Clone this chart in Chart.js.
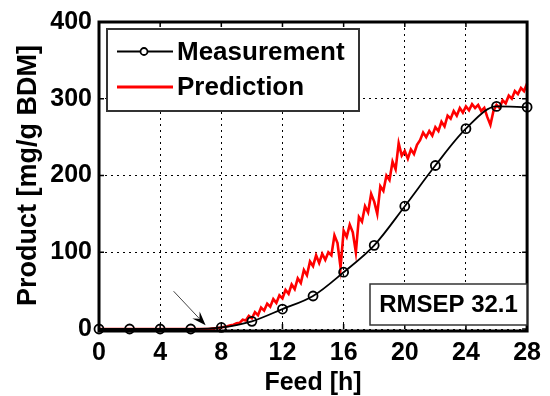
<!DOCTYPE html>
<html>
<head>
<meta charset="utf-8">
<script src="https://cdn.jsdelivr.net/npm/chart.js@4.4.0/dist/chart.umd.min.js"></script>
<style>
html,body{margin:0;padding:0;background:#fff;}
#wrap{width:550px;height:396px;position:relative;}
</style>
</head>
<body>
<div id="wrap"><canvas id="c" width="550" height="396"></canvas></div>
<script>
// ---- data ----
const measHours = [0, 2, 4, 6, 8, 10, 12, 14, 16, 18, 20, 22, 24, 26, 28];
const measValues = [0, 0, 0, 0, 2, 10, 26, 43, 74, 109, 160, 213, 261, 290, 289];

const predHours = [0, 7.0, 7.2, 7.4, 7.6, 7.8, 8.0, 8.2, 8.4, 8.6, 8.8, 9.0, 9.2, 9.4, 9.6, 9.8,
  10.0, 10.2, 10.4, 10.6, 10.8, 11.0, 11.2, 11.4, 11.6, 11.8, 12.0, 12.2, 12.4, 12.6, 12.8,
  13.0, 13.2, 13.4, 13.6, 13.8, 14.0, 14.2, 14.4, 14.6, 14.8, 15.0, 15.2, 15.4, 15.6, 15.8,
  16.0, 16.2, 16.4, 16.6, 16.8, 17.0, 17.2, 17.4, 17.6, 17.8, 18.0, 18.2, 18.4, 18.6, 18.8,
  19.0, 19.2, 19.4, 19.6, 19.8, 20.0, 20.2, 20.4, 20.6, 20.8, 21.0, 21.2, 21.4, 21.6, 21.8,
  22.0, 22.2, 22.4, 22.6, 22.8, 23.0, 23.2, 23.4, 23.6, 23.8, 24.0, 24.2, 24.4, 24.6, 24.8,
  25.0, 25.2, 25.4, 25.6, 25.8, 26.0, 26.2, 26.4, 26.6, 26.8, 27.0, 27.2, 27.4, 27.6, 27.8, 28.0];
const predValues = [0, 0, 0, 0.5, 1, 1.5, 2, 3, 3.5, 5, 5.5, 7.5, 8, 12, 11, 17,
  14, 22, 18, 28, 24, 33, 29, 39, 34, 44, 40, 51, 46, 58, 52,
  66, 60, 77, 70, 88, 82, 96, 86, 98, 90, 100, 96, 122, 112, 80,
  128, 120, 136, 126, 100, 146, 140, 160, 152, 176, 166, 150, 186, 180, 200,
  194, 218, 208, 242, 226, 232, 222, 234, 228, 240, 246, 256, 250, 258, 252,
  263, 258, 270, 264, 278, 274, 284, 278, 288, 282, 290, 285, 293, 288, 292,
  284, 288, 276, 266, 284, 292, 288, 298, 294, 304, 300, 310, 306, 314, 310, 320];

const xTicks = [0, 4, 8, 12, 16, 20, 24, 28];
const yTicks = [0, 100, 200, 300, 400];
const seriesLabels = ['Measurement', 'Prediction'];
const xTitle = 'Feed [h]';
const yTitle = 'Product [mg/g BDM]';
const rmsepText = 'RMSEP 32.1';
const arrowTarget = [7.3, 1]; // hours, value the arrow points to

const FONT = '"Liberation Sans", Arial, sans-serif';

const overlay = {
  id: 'overlay',
  afterDraw(chart) {
    const ctx = chart.ctx;
    const a = chart.chartArea;
    const xs = chart.scales.x, ys = chart.scales.y;
    ctx.save();
    // inward ticks
    ctx.strokeStyle = '#000';
    ctx.lineWidth = 1.5;
    ctx.beginPath();
    xTicks.forEach(t => {
      const px = xs.getPixelForValue(t);
      ctx.moveTo(px, a.top); ctx.lineTo(px, a.top + 5);
      ctx.moveTo(px, a.bottom); ctx.lineTo(px, a.bottom - 5);
    });
    yTicks.forEach(t => {
      const py = ys.getPixelForValue(t);
      ctx.moveTo(a.right, py); ctx.lineTo(a.right - 5, py);
      ctx.moveTo(a.left, py); ctx.lineTo(a.left + 5, py);
    });
    ctx.stroke();
    // frame (bottom edge sits just below the zero line)
    ctx.lineWidth = 3;
    ctx.beginPath();
    ctx.moveTo(a.left, a.top); ctx.lineTo(a.right, a.top);
    ctx.lineTo(a.right, a.bottom + 2); ctx.lineTo(a.left, a.bottom + 2);
    ctx.closePath();
    ctx.stroke();

    // legend box
    const lx = 107, ly = 29, lw = 252, lh = 82;
    ctx.fillStyle = '#fff';
    ctx.fillRect(lx, ly, lw, lh);
    ctx.strokeStyle = '#333';
    ctx.lineWidth = 2;
    ctx.strokeRect(lx, ly, lw, lh);
    const ds = chart.data.datasets;
    const rows = [51.5, 87];
    ds.forEach((d, i) => {
      const yy = rows[i];
      ctx.strokeStyle = d.borderColor;
      ctx.lineWidth = i === 0 ? 2 : 3;
      ctx.beginPath();
      ctx.moveTo(117, yy); ctx.lineTo(173, yy);
      ctx.stroke();
      if (i === 0) {
        ctx.lineWidth = 1.8;
        ctx.fillStyle = '#fff';
        ctx.beginPath();
        ctx.arc(144, yy, 3.5, 0, Math.PI * 2);
        ctx.fill(); ctx.stroke();
      }
      ctx.fillStyle = '#000';
      ctx.font = 'bold 26px ' + FONT;
      ctx.textBaseline = 'middle';
      ctx.textAlign = 'left';
      ctx.fillText(d.label, 177, yy + 1);
    });

    // RMSEP box
    const bx = 370, by = 284, bw = 157, bh = 41;
    ctx.fillStyle = '#fff';
    ctx.fillRect(bx, by, bw, bh);
    ctx.strokeStyle = '#333';
    ctx.lineWidth = 1.5;
    ctx.strokeRect(bx, by, bw, bh);
    ctx.fillStyle = '#000';
    ctx.font = 'bold 24px ' + FONT;
    ctx.textAlign = 'center';
    ctx.textBaseline = 'middle';
    ctx.fillText(rmsepText, bx + bw / 2, by + bh / 2 + 1);

    // arrow
    const tx = xs.getPixelForValue(arrowTarget[0]) - 5;
    const ty = ys.getPixelForValue(arrowTarget[1]) - 3;
    const sx = tx - 32, sy = ty - 34;
    const ang = Math.atan2(ty - sy, tx - sx);
    ctx.strokeStyle = '#444';
    ctx.lineWidth = 1;
    ctx.beginPath();
    ctx.moveTo(sx, sy); ctx.lineTo(tx - 10 * Math.cos(ang), ty - 10 * Math.sin(ang));
    ctx.stroke();
    ctx.fillStyle = '#000';
    ctx.beginPath();
    ctx.moveTo(tx, ty);
    ctx.lineTo(tx - 14 * Math.cos(ang) + 5 * Math.sin(ang), ty - 14 * Math.sin(ang) - 5 * Math.cos(ang));
    ctx.lineTo(tx - 9 * Math.cos(ang), ty - 9 * Math.sin(ang));
    ctx.lineTo(tx - 14 * Math.cos(ang) - 5 * Math.sin(ang), ty - 14 * Math.sin(ang) + 5 * Math.cos(ang));
    ctx.closePath();
    ctx.fill();
    ctx.restore();
  }
};

new Chart(document.getElementById('c'), {
  type: 'scatter',
  data: {
    datasets: [
      {
        label: seriesLabels[0],
        data: measHours.map((h, i) => ({x: h, y: measValues[i]})),
        showLine: true,
        clip: false,
        borderColor: '#000',
        borderWidth: 1.8,
        pointRadius: 4.5,
        pointBorderWidth: 1.8,
        pointBackgroundColor: 'rgba(0,0,0,0)',
        pointBorderColor: '#000',
        cubicInterpolationMode: 'monotone'
      },
      {
        label: seriesLabels[1],
        data: predHours.map((h, i) => ({x: h, y: predValues[i]})),
        showLine: true,
        clip: 4,
        borderColor: '#ff0000',
        borderWidth: 2.6,
        pointRadius: 0,
        tension: 0
      }
    ]
  },
  options: {
    responsive: false,
    animation: false,
    layout: {padding: {left: 0, right: 18, top: 21, bottom: 0}},
    plugins: {legend: {display: false}, tooltip: {enabled: false}},
    scales: {
      x: {
        type: 'linear', min: 0, max: 28,
        afterBuildTicks(s) { s.ticks = xTicks.map(v => ({value: v})); },
        afterFit(s) { s.height = 67; },
        ticks: {color: '#000', padding: 9, font: {family: FONT, size: 25, weight: 'bold', lineHeight: 1.2}, maxRotation: 0},
        grid: {color: '#000', lineWidth: 1, drawTicks: false},
        border: {display: false, dash: [2, 4]},
        title: {display: true, text: xTitle, color: '#000', padding: {top: 0, bottom: 0},
          font: {family: FONT, size: 25, weight: 'bold', lineHeight: 1}}
      },
      y: {
        type: 'linear', min: 0, max: 400,
        afterBuildTicks(s) { s.ticks = yTicks.map(v => ({value: v})); },
        afterFit(s) { s.width = 99; },
        ticks: {color: '#000', padding: 7, font: {family: FONT, size: 25, weight: 'bold'}},
        grid: {color: '#000', lineWidth: 1, drawTicks: false},
        border: {display: false, dash: [2, 4]},
        title: {display: true, text: yTitle, color: '#000', padding: {top: 12, bottom: 0},
          font: {family: FONT, size: 27, weight: 'bold', lineHeight: 1.2}}
      }
    }
  },
  plugins: [overlay]
});
</script>
</body>
</html>
